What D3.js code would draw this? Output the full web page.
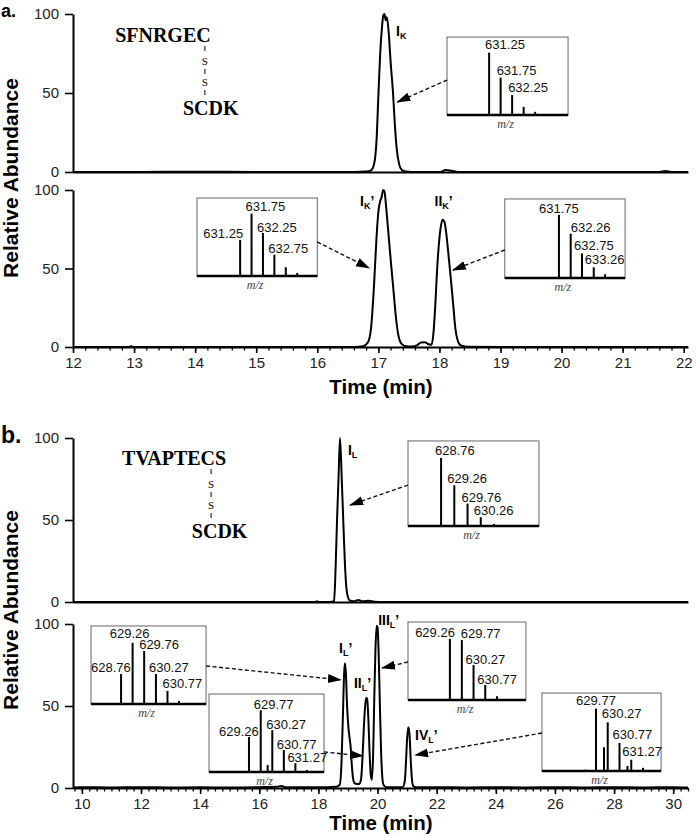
<!DOCTYPE html>
<html><head><meta charset="utf-8">
<script src="https://cdn.jsdelivr.net/npm/d3@7"></script>
<style>
html,body{margin:0;padding:0;background:#fff;}
svg{display:block;}
</style></head><body>
<svg id="chart" width="700" height="836"></svg>
<script>
// ================= DATA =================
const yTicks = [0, 50, 100];
const xTicksA = [12, 13, 14, 15, 16, 17, 18, 19, 20, 21, 22];
const xTicksB = [10, 12, 14, 16, 18, 20, 22, 24, 26, 28, 30];

// chromatograms: [time (min), relative abundance]
const traceA1 = [[12,0],[13,0],[14,0.2],[15,0],[16,0],[16.6,0],[16.8,0.3],[16.88,1],[16.93,5],[16.97,20],[17.0,48],[17.03,75],[17.06,92],[17.08,99],[17.1,100],[17.12,96],[17.14,98],[17.17,88],[17.2,70],[17.24,50],[17.27,30],[17.3,15],[17.34,5],[17.38,1.5],[17.45,0.3],[17.55,0],[18.0,0],[18.1,1.2],[18.2,0.8],[18.3,0],[19,0],[20,0],[21,0],[21.6,0],[21.7,0.6],[21.8,0],[22.07,0]];
const traceA2 = [[12,0],[12.9,0],[12.95,0.4],[13,0],[14,0],[15,0],[16,0],[16.6,0],[16.75,0.5],[16.83,3],[16.88,12],[16.93,40],[16.97,70],[17.0,86],[17.03,93],[17.05,95],[17.08,100],[17.1,99],[17.13,88],[17.17,70],[17.21,52],[17.25,35],[17.29,18],[17.33,7],[17.38,2],[17.45,0.5],[17.55,0.3],[17.63,1],[17.7,2.8],[17.76,3],[17.82,1.8],[17.87,1.5],[17.9,8],[17.93,25],[17.96,48],[17.99,65],[18.02,76],[18.05,81],[18.08,80],[18.11,73],[18.14,62],[18.17,50],[18.2,38],[18.23,25],[18.26,12],[18.3,4],[18.35,1],[18.45,0.2],[19,0],[20,0],[21,0],[22.07,0]];
const traceB1 = [[9.7,0],[12,0],[15,0],[17.9,0],[17.95,0.5],[18.0,0],[18.4,0],[18.53,0.5],[18.58,20],[18.63,50],[18.68,75],[18.73,100],[18.79,75],[18.85,45],[18.9,22],[18.95,8],[19.0,3],[19.05,1],[19.2,0.5],[19.35,1.2],[19.5,0.5],[19.7,0.8],[19.9,0.2],[20.2,0],[25,0],[30.5,0]];
const traceB2 = [[9.7,0.3],[10,0.5],[11,0.3],[12,0.5],[13,0.3],[14,0.4],[15,0.3],[16,0.5],[16.6,0.8],[16.75,1.2],[16.9,0.5],[17.5,0.4],[18.3,0.5],[18.6,0.8],[18.72,2],[18.78,15],[18.83,45],[18.87,70],[18.9,76],[18.93,70],[18.97,50],[19.01,38],[19.05,31],[19.09,25],[19.13,14],[19.17,6],[19.22,3],[19.3,2.5],[19.38,2.5],[19.44,5],[19.49,18],[19.54,38],[19.58,50],[19.62,55],[19.65,54],[19.69,42],[19.73,22],[19.77,8],[19.81,5],[19.85,20],[19.89,55],[19.93,85],[19.97,99],[20.0,98],[20.04,80],[20.08,50],[20.12,22],[20.16,7],[20.2,2],[20.3,0.5],[20.6,0.4],[20.85,0.5],[20.92,4],[20.96,15],[21.0,30],[21.04,37],[21.08,33],[21.12,18],[21.16,6],[21.2,1.5],[21.3,0.4],[22,0.5],[23,0.3],[24,0.5],[25,0.3],[26,0.5],[27,0.3],[28,0.5],[29,0.3],[30,0.5],[30.5,0.3]];

// inset mass spectra (m/z, relative intensity, labelled peaks, m/z window)
const mzIK = [631.25, 631.75, 632.25, 632.75, 633.25];
const intIK = [100, 60, 32, 13, 5];
const lblIK = ["631.25", "631.75", "632.25"];
const winIK = [629.42, 634.68];

const mzIKp = [631.25, 631.75, 632.25, 632.75, 633.25, 633.75];
const intIKp = [58, 100, 69, 34, 14, 5];
const lblIKp = ["631.25", "631.75", "632.25", "632.75"];
const winIKp = [629.36, 634.63];

const mzIIKp = [631.75, 632.26, 632.75, 633.26, 633.75];
const intIIKp = [100, 70, 39, 17, 6];
const lblIIKp = ["631.75", "632.26", "632.75", "633.26"];
const winIIKp = [629.40, 634.62];

const mzIL = [628.76, 629.26, 629.76, 630.26, 630.76];
const intIL = [100, 60, 33, 13, 3];
const lblIL = ["628.76", "629.26", "629.76", "630.26"];
const winIL = [627.51, 632.46];

const mzILp = [628.76, 629.26, 629.76, 630.27, 630.77, 631.27];
const intILp = [48, 98, 85, 48, 21, 5];
const lblILp = ["628.76", "629.26", "629.76", "630.27", "630.77"];
const winILp = [627.46, 632.44];

const mzIILp = [629.26, 629.77, 630.07, 630.27, 630.77, 631.27, 631.77];
const intIILp = [56, 99, 11, 67, 35, 14, 3];
const lblIILp = ["629.26", "629.77", "630.27", "630.77", "631.27"];
const winIILp = [627.53, 632.51];

const mzIIILp = [629.26, 629.77, 630.27, 630.77, 631.27];
const intIIILp = [98, 96, 56, 24, 6];
const lblIIILp = ["629.26", "629.77", "630.27", "630.77"];
const winIIILp = [627.47, 632.51];

const mzIVLp = [629.30, 629.77, 630.11, 630.27, 630.77, 631.11, 631.27, 631.77];
const intIVLp = [2, 100, 38, 78, 45, 8, 18, 5];
const lblIVLp = ["629.77", "630.27", "630.77", "631.27"];
const winIVLp = [627.47, 632.54];

// ================= LAYOUT =================
const FONT = "Arial, 'Liberation Sans', Helvetica, sans-serif";
const SERIF = "'Times New Roman', 'Liberation Serif', Times, serif";
const svg = d3.select("#chart");

const defs = svg.append("defs");
defs.append("marker").attr("id", "ah").attr("markerUnits", "userSpaceOnUse")
  .attr("viewBox", "0 -5 14 10").attr("refX", 13).attr("refY", 0)
  .attr("markerWidth", 14).attr("markerHeight", 10).attr("orient", "auto")
  .append("path").attr("d", "M0,-4.5L14,0L0,4.5Z").attr("fill", "#000");

const panels = {
  a1: {trace: traceA1, xd: [12, 22.07], x0: 73, x1: 688, yT: 14, yB: 172, axis: false},
  a2: {trace: traceA2, xd: [12, 22.07], x0: 73, x1: 688, yT: 190, yB: 347, axis: true, ticks: xTicksA, minor: 0.2},
  b1: {trace: traceB1, xd: [9.7, 30.5], x0: 73, x1: 688, yT: 438, yB: 602, axis: false},
  b2: {trace: traceB2, xd: [9.7, 30.5], x0: 73, x1: 688, yT: 624, yB: 788, axis: true, ticks: xTicksB, minor: 0.25}
};

function styleAxis(g) {
  g.select(".domain").attr("stroke", "#000").attr("stroke-width", 2);
  g.selectAll(".tick line").attr("stroke", "#000").attr("stroke-width", 1.6);
  g.selectAll(".tick text").attr("font-family", FONT).attr("font-size", 15).attr("fill", "#222");
}

Object.values(panels).forEach(p => {
  p.x = d3.scaleLinear().domain(p.xd).range([p.x0, p.x1]);
  p.y = d3.scaleLinear().domain([0, 100]).range([p.yB, p.yT]);
  p.g = svg.append("g");
  const ya = p.g.append("g").attr("transform", `translate(${p.x0},0)`)
    .call(d3.axisLeft(p.y).tickValues(yTicks).tickSize(8).tickPadding(6).tickSizeOuter(0));
  styleAxis(ya);
  if (p.axis) {
    const ticksAll = d3.range(Math.ceil(p.xd[0] / p.minor) * p.minor, p.xd[1] + 1e-6, p.minor);
    const mg = p.g.append("g").attr("transform", `translate(0,${p.yB})`)
      .call(d3.axisBottom(p.x).tickValues(ticksAll).tickSize(3.5).tickFormat("").tickSizeOuter(0));
    mg.select(".domain").remove();
    mg.selectAll(".tick line").attr("stroke", "#000").attr("stroke-width", 1.3);
    const xa = p.g.append("g").attr("transform", `translate(0,${p.yB})`)
      .call(d3.axisBottom(p.x).tickValues(p.ticks).tickSize(6).tickPadding(4).tickSizeOuter(0));
    styleAxis(xa);
  } else {
    const xa = p.g.append("g").attr("transform", `translate(0,${p.yB})`)
      .call(d3.axisBottom(p.x).tickValues([]).tickSizeOuter(0));
    styleAxis(xa);
  }
  const line = d3.line().x(d => p.x(d[0])).y(d => p.y(d[1])).curve(d3.curveMonotoneX);
  p.g.append("path").datum(p.trace).attr("d", line)
    .attr("fill", "none").attr("stroke", "#000").attr("stroke-width", 2).attr("stroke-linejoin", "round");
});

// ---------- insets ----------
const insets = [
  {p: "a1", mz: mzIK, it: intIK, lb: lblIK, win: winIK, box: [18.124, 20.106, 85.4, 36.1],
   lay: [["start",-4,-4],["start",-4,-3],["start",-4,-3]], arrow: {side: "left", a: 58.2, tip: [17.31, 44.3]}},
  {p: "a2", mz: mzIKp, it: intIKp, lb: lblIKp, win: winIKp, box: [14.03, 16.0, 94.9, 45.2],
   lay: [["end",3,-2],["start",-6,-2.5],["start",-6,-1],["start",-6,-1.5]], arrow: {side: "right", a: 66.9, tip: [16.85, 50.3]}},
  {p: "a2", mz: mzIIKp, it: intIIKp, lb: lblIIKp, win: winIIKp, box: [19.07, 21.04, 94.3, 43.9],
   lay: [["middle",0,-1.5],["start",0,-1.5],["start",-8,-3.5],["start",-9,-3.5]], arrow: {side: "left", a: 61.8, tip: [18.22, 49.0]}},
  {p: "b1", mz: mzIL, it: intIL, lb: lblIL, win: winIL, box: [21.03, 25.46, 98.2, 46.3],
   lay: [["start",-6,-2.5],["start",-7,-2.5],["start",-6,-1.5],["start",-7,-2]], arrow: {side: "left", a: 71.3, tip: [19.07, 59.1]}},
  {p: "b2", mz: mzILp, it: intILp, lb: lblILp, win: winILp, box: [10.31, 14.20, 98.8, 51.2],
   lay: [["start",-30,-2.5],["middle",-3,-4.5],["start",-5,-1.5],["start",-7,-2.5],["start",-5,-2.5]], arrow: {side: "right", a: 74.4, tip: [18.76, 65.9]}},
  {p: "b2", mz: mzIILp, it: intIILp, lb: lblIILp, win: winIILp, box: [14.30, 18.19, 57.3, 9.8],
   lay: [["start",-30,-1.5],["start",-7,-1.5],["start",-6,-1.5],["start",-7,-1.5],["start",-8,-1.5]], arrow: {side: "right", a: 22.0, tip: [19.51, 19.5]}},
  {p: "b2", mz: mzIIILp, it: intIIILp, lb: lblIIILp, win: winIIILp, box: [21.03, 25.02, 101.2, 53.7],
   lay: [["end",5,-1.5],["start",-1,-2.5],["start",-8,-1],["start",-8,-1]], arrow: {side: "left", a: 76.8, tip: [20.15, 73.2]}},
  {p: "b2", mz: mzIVLp, it: intIVLp, lb: lblIVLp, win: winIVLp, box: [25.56, 29.59, 57.9, 10.4],
   lay: [["middle",0,-3.5],["start",-6,-4.5],["start",-7,-3.5],["start",-9,-3.5]], arrow: {side: "left", a: 33.5, tip: [21.27, 20.1]}}
];

insets.forEach(s => {
  const p = panels[s.p];
  const bx0 = p.x(s.box[0]), bx1 = p.x(s.box[1]), by0 = p.y(s.box[2]), by1 = p.y(s.box[3]);
  const g = svg.append("g");
  const mx = d3.scaleLinear().domain(s.win).range([bx0, bx1]);
  const iy = d3.scaleLinear().domain([0, 125]).range([by1, by0]);
  g.append("rect").attr("x", bx0).attr("y", by0).attr("width", bx1 - bx0).attr("height", by1 - by0)
    .attr("fill", "#fff").attr("stroke", "#666").attr("stroke-width", 1);
  g.selectAll("line.stick").data(s.mz.map((m, i) => [m, s.it[i]])).join("line").attr("class", "stick")
    .attr("x1", d => mx(d[0])).attr("x2", d => mx(d[0]))
    .attr("y1", iy(0)).attr("y2", d => iy(d[1]))
    .attr("stroke", "#000").attr("stroke-width", 2);
  g.append("line").attr("x1", bx0).attr("x2", bx1).attr("y1", by1).attr("y2", by1)
    .attr("stroke", "#000").attr("stroke-width", 2.5);
  s.lb.forEach((t, i) => {
    const v = parseFloat(t);
    let k = 0;
    s.mz.forEach((m, j) => { if (Math.abs(m - v) < Math.abs(s.mz[k] - v)) k = j; });
    const L = s.lay[i];
    g.append("text").attr("x", mx(s.mz[k]) + L[1]).attr("y", iy(s.it[k]) + L[2])
      .attr("text-anchor", L[0]).attr("font-family", FONT).attr("font-size", 13).attr("fill", "#111")
      .text(t);
  });
  g.append("text").attr("x", (bx0 + bx1) / 2 - 2).attr("y", by1 + 13)
    .attr("text-anchor", "middle").attr("font-family", SERIF).attr("font-style", "italic")
    .attr("font-size", 12).attr("fill", "#444").text("m/z");
  const sx = s.arrow.side === "left" ? bx0 : bx1;
  g.append("line").attr("x1", sx).attr("y1", p.y(s.arrow.a))
    .attr("x2", p.x(s.arrow.tip[0])).attr("y2", p.y(s.arrow.tip[1]))
    .attr("stroke", "#111").attr("stroke-width", 1.4).attr("stroke-dasharray", "4,2.5")
    .attr("marker-end", "url(#ah)");
});

// ---------- peak labels ----------
const peakLabels = [
  {p: "a1", t: 17.29, a: 86.1, main: "I", sub: "K", prime: false},
  {p: "a2", t: 16.70, a: 89.8, main: "I", sub: "K", prime: true},
  {p: "a2", t: 17.92, a: 89.8, main: "II", sub: "K", prime: true},
  {p: "b1", t: 19.00, a: 89.6, main: "I", sub: "L", prime: false},
  {p: "b2", t: 18.70, a: 82.3, main: "I", sub: "L", prime: true},
  {p: "b2", t: 19.20, a: 61.0, main: "II", sub: "L", prime: true},
  {p: "b2", t: 20.02, a: 99.4, main: "III", sub: "L", prime: true},
  {p: "b2", t: 21.27, a: 29.3, main: "IV", sub: "L", prime: true}
];
peakLabels.forEach(l => {
  const p = panels[l.p];
  const tx = svg.append("text").attr("x", p.x(l.t)).attr("y", p.y(l.a))
    .attr("font-family", FONT).attr("font-weight", "bold").attr("font-size", 14).attr("fill", "#000");
  tx.append("tspan").text(l.main);
  tx.append("tspan").attr("font-size", 9).attr("dy", 3).text(l.sub);
  if (l.prime) tx.append("tspan").attr("font-size", 14).attr("dy", -3).text("\u2019");
});

// ---------- peptides ----------
function peptide(p, topText, tTop, aTop, botText, tBot, tBond) {
  const g = svg.append("g");
  const T = p.y(aTop), bx = p.x(tBond);
  g.append("text").attr("x", p.x(tTop)).attr("y", T).attr("font-family", SERIF)
    .attr("font-weight", "bold").attr("font-size", 20).text(topText);
  g.append("text").attr("x", p.x(tBot)).attr("y", T + 73).attr("font-family", SERIF)
    .attr("font-weight", "bold").attr("font-size", 20).text(botText);
  [[4, 9], [27, 32], [48, 53]].forEach(d => g.append("line").attr("x1", bx).attr("x2", bx)
    .attr("y1", T + d[0]).attr("y2", T + d[1]).attr("stroke", "#000").attr("stroke-width", 1));
  [23, 44].forEach(d => g.append("text").attr("x", bx).attr("y", T + d).attr("text-anchor", "middle")
    .attr("font-family", SERIF).attr("font-size", 11).text("S"));
}
peptide(panels.a1, "SFNRGEC", 12.69, 82.3, "SCDK", 13.80, 14.16);
peptide(panels.b1, "TVAPTECS", 11.36, 83.5, "SCDK", 13.72, 14.37);

// ---------- titles ----------
function txt(x, y, s, size, rot) {
  const t = svg.append("text").attr("font-family", FONT).attr("font-weight", "bold")
    .attr("font-size", size).attr("fill", "#000").text(s);
  if (rot) t.attr("transform", `translate(${x},${y}) rotate(-90)`).attr("text-anchor", "middle");
  else t.attr("x", x).attr("y", y);
  return t;
}
txt(1, 17, "a.", 18);
txt(1, 443, "b.", 23);
txt(18, 178, "Relative Abundance", 21, true);
txt(18, 610, "Relative Abundance", 21, true);
txt(381, 394, "Time (min)", 20.5).attr("text-anchor", "middle");
txt(381, 830, "Time (min)", 20.5).attr("text-anchor", "middle");
</script>
</body></html>
